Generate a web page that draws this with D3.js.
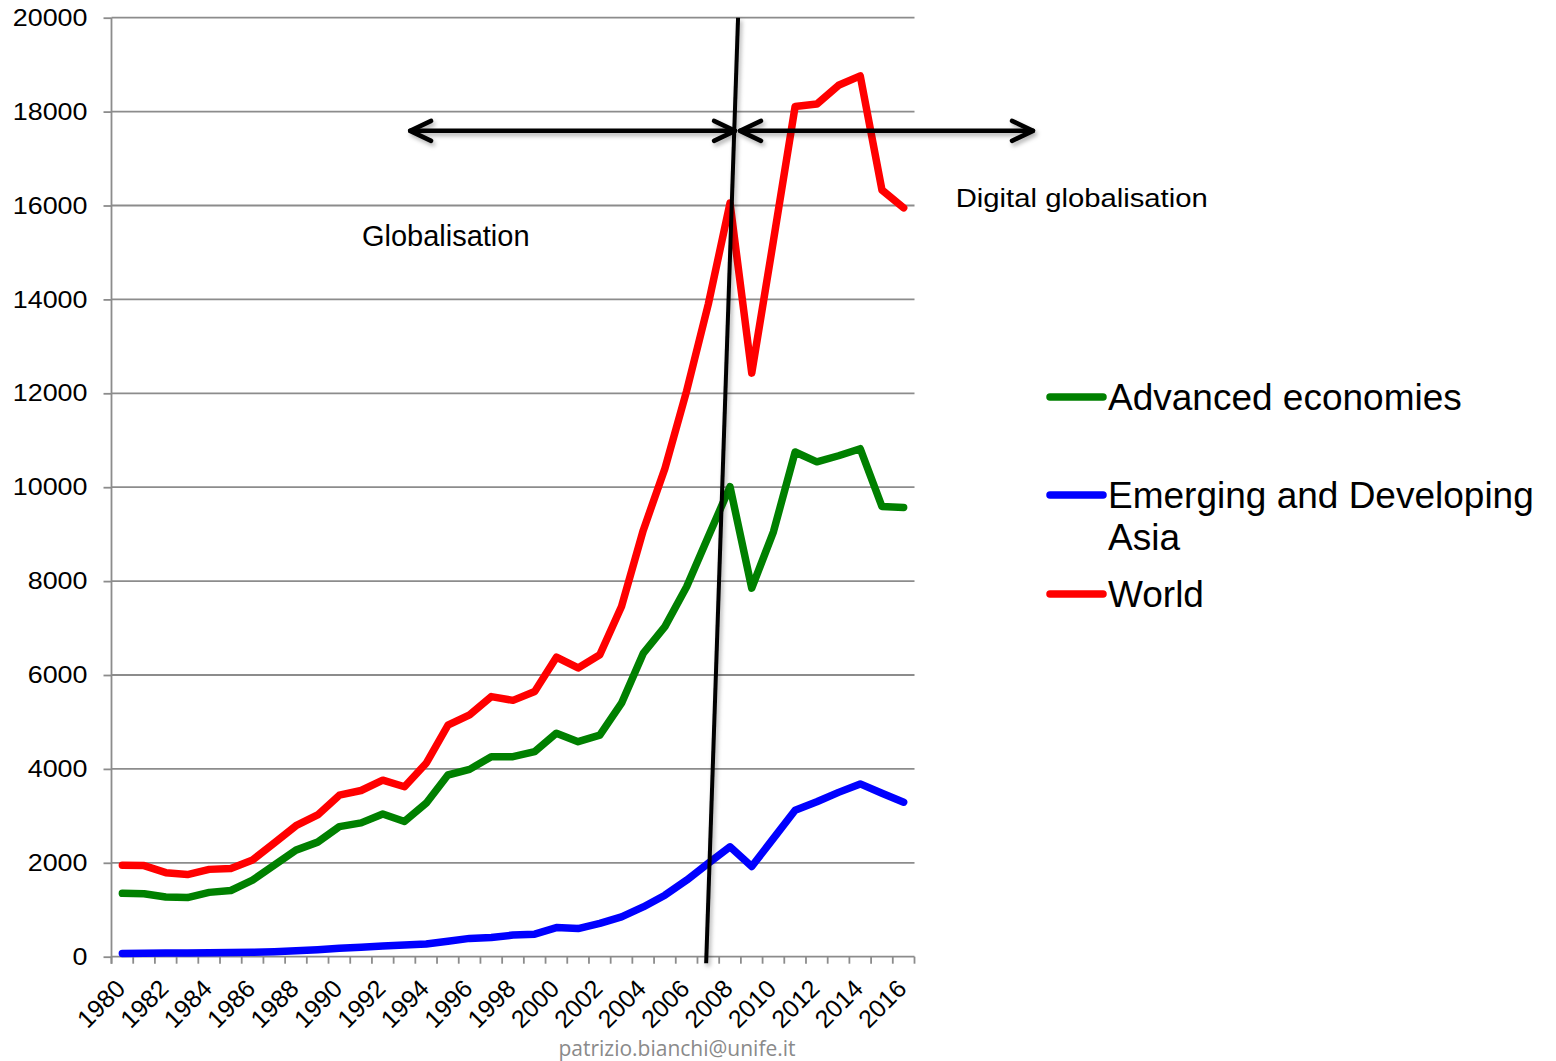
<!DOCTYPE html>
<html>
<head>
<meta charset="utf-8">
<script src="https://cdn.jsdelivr.net/npm/d3@7/dist/d3.min.js"></script>
<style>
  html, body { margin: 0; padding: 0; background: #fff; }
  svg { display: block; }
  text { fill: #000; }
</style>
</head>
<body>
<svg id="chart" width="1556" height="1061" font-family="Liberation Sans, Arial, sans-serif"></svg>
<script>
// ---------- data ----------
const years = d3.range(1980, 2017);
const yTicks = [0, 2000, 4000, 6000, 8000, 10000, 12000, 14000, 16000, 18000, 20000];
const xLabelYears = d3.range(1980, 2017, 2);

const advanced = [1350,1340,1270,1260,1370,1410,1630,1950,2270,2440,
                  2770,2850,3040,2880,3270,3870,3990,4260,4260,4370,
                  4760,4580,4720,5400,6460,7030,7880,8950,10010,7850,
                  9050,10750,10540,10670,10820,9590,9570];
const emerging = [70,75,78,80,85,88,93,105,125,150,
                  178,200,227,250,271,330,390,410,460,480,
                  620,600,710,850,1060,1310,1630,1990,2340,1920,
                  2520,3120,3300,3500,3680,3480,3290];
const world    = [1950,1940,1790,1750,1860,1880,2060,2420,2790,3020,
                  3440,3540,3760,3620,4120,4930,5150,5540,5460,5650,
                  6380,6150,6430,7460,9080,10400,12050,13900,16050,12430,
                  15250,18110,18160,18560,18760,16330,15950];

const seriesNames  = ["Advanced economies", "Emerging and Developing\nAsia", "World"];
const seriesValues = [advanced, emerging, world];
const seriesColors = ["#008000", "#0000ff", "#ff0000"];

// annotations (years / values)
const breakLine   = [[2006.9, -140], [2008.37, 20000]];
const arrowLeft   = [[1993.26, 17590], [2008.23, 17590]];
const arrowRight  = [[2008.46, 17590], [2021.96, 17590]];
const labelGlob   = {text: "Globalisation", year: 1994.9, value: 15130};
const labelDigit  = {text: "Digital globalisation", year: 2018.4, value: 15970};
const credit = "patrizio.bianchi@unife.it";

// ---------- layout ----------
const svg = d3.select("#chart");
const plot = {left: 111.5, right: 914.5, top: 17.7, bottom: 956.7};

const x = d3.scaleBand().domain(years).range([plot.left, plot.right]).paddingInner(0).paddingOuter(0);
const xc = d => x(d) + x.bandwidth() / 2;
const xLin = d3.scaleLinear().domain([1980, 2016]).range([xc(1980), xc(2016)]);
const y = d3.scaleLinear().domain([0, 20000]).range([plot.bottom, plot.top]);

const defs = svg.append("defs");
const f = defs.append("filter").attr("id", "shadow").attr("x", "-20%").attr("y", "-20%").attr("width", "140%").attr("height", "140%");
f.append("feDropShadow").attr("dx", 2).attr("dy", 3).attr("stdDeviation", 2)
  .attr("flood-color", "#000").attr("flood-opacity", 0.3);

function stretch(sel, k) {
  sel.each(function() {
    const w = this.getComputedTextLength();
    d3.select(this).attr("textLength", w * k).attr("lengthAdjust", "spacingAndGlyphs");
  });
}

// gridlines
svg.append("g").selectAll("line").data(yTicks.filter(d => d > 0)).join("line")
  .attr("x1", plot.left).attr("x2", plot.right)
  .attr("y1", d => y(d)).attr("y2", d => y(d))
  .attr("stroke", "#8c8c8c").attr("stroke-width", 1.8);

// y axis
const yAxis = svg.append("g").attr("transform", `translate(${plot.left},0)`)
  .call(d3.axisLeft(y).tickValues(yTicks).tickSize(8).tickPadding(16).tickFormat(d3.format("d")));
yAxis.attr("font-family", null).attr("font-size", null);
yAxis.select(".domain").attr("stroke", "#8c8c8c").attr("stroke-width", 1.8)
  .attr("d", `M0,${plot.top}V${plot.bottom + 7}`);
yAxis.selectAll(".tick line").attr("stroke", "#8c8c8c").attr("stroke-width", 1.8);
yAxis.selectAll(".tick text").attr("font-size", 24)
  .attr("fill", "#000").call(stretch, 1.12);

// x axis line + minor ticks at band boundaries
const gx = svg.append("g");
gx.append("line").attr("x1", plot.left).attr("x2", plot.right)
  .attr("y1", plot.bottom).attr("y2", plot.bottom)
  .attr("stroke", "#8c8c8c").attr("stroke-width", 1.8);
gx.selectAll("line.tk").data(years.concat([2017])).join("line").attr("class", "tk")
  .attr("x1", d => d === 2017 ? plot.right : x(d)).attr("x2", d => d === 2017 ? plot.right : x(d))
  .attr("y1", plot.bottom).attr("y2", plot.bottom + 7)
  .attr("stroke", "#8c8c8c").attr("stroke-width", 1.8);
gx.selectAll("text").data(xLabelYears).join("text")
  .attr("transform", d => `translate(${xc(d) - 8},${plot.bottom + 21}) rotate(-45)`)
  .attr("text-anchor", "end").attr("dy", "0.7em")
  .attr("font-size", 25)
  .text(d => d);

// series lines
const line = d3.line().x((d, i) => xc(years[i])).y(d => y(d));
svg.append("g").selectAll("path").data(seriesValues).join("path")
  .attr("d", d => line(d))
  .attr("fill", "none")
  .attr("stroke", (d, i) => seriesColors[i])
  .attr("stroke-width", 7.5)
  .attr("stroke-linecap", "round")
  .attr("stroke-linejoin", "round");

// annotations
const ann = svg.append("g").attr("filter", "url(#shadow)");
ann.append("line")
  .attr("x1", xLin(breakLine[0][0])).attr("y1", y(breakLine[0][1]))
  .attr("x2", xLin(breakLine[1][0])).attr("y2", y(breakLine[1][1]))
  .attr("stroke", "#000").attr("stroke-width", 4);

function drawArrow(pts) {
  const x1 = xLin(pts[0][0]), x2 = xLin(pts[1][0]), yy = y(pts[0][1]);
  const g = ann.append("g").attr("stroke", "#000").attr("stroke-width", 4.5)
    .attr("fill", "none").attr("stroke-linecap", "round").attr("stroke-linejoin", "round");
  g.append("line").attr("x1", x1).attr("x2", x2).attr("y1", yy).attr("y2", yy);
  g.append("path").attr("d", `M${x1 + 21},${yy - 10}L${x1},${yy}L${x1 + 21},${yy + 10}`);
  g.append("path").attr("d", `M${x2 - 21},${yy - 10}L${x2},${yy}L${x2 - 21},${yy + 10}`);
}
drawArrow(arrowLeft);
drawArrow(arrowRight);

svg.append("text").attr("x", xLin(labelGlob.year)).attr("y", y(labelGlob.value))
  .attr("text-anchor", "middle").attr("font-size", 29).text(labelGlob.text);
svg.append("text").attr("x", xLin(labelDigit.year)).attr("y", y(labelDigit.value))
  .attr("font-size", 25).text(labelDigit.text).call(stretch, 1.17);

// legend
const legendY = [397, 495, 594];
const lg = svg.append("g");
seriesNames.forEach((name, i) => {
  lg.append("line").attr("x1", 1050).attr("x2", 1103)
    .attr("y1", legendY[i]).attr("y2", legendY[i])
    .attr("stroke", seriesColors[i]).attr("stroke-width", 7.5).attr("stroke-linecap", "round");
  const t = lg.append("text").attr("x", 1108).attr("y", legendY[i] + 13).attr("font-size", 37);
  name.split("\n").forEach((part, j) => {
    t.append("tspan").attr("x", 1108).attr("dy", j === 0 ? 0 : 42).text(part);
  });
});

// credit
svg.append("text").attr("x", 677).attr("y", 1056).attr("text-anchor", "middle")
  .attr("font-size", 21).style("font-family", "'Open Sans', sans-serif").style("fill", "#8a8a8a")
  .text(credit);
</script>
</body>
</html>
